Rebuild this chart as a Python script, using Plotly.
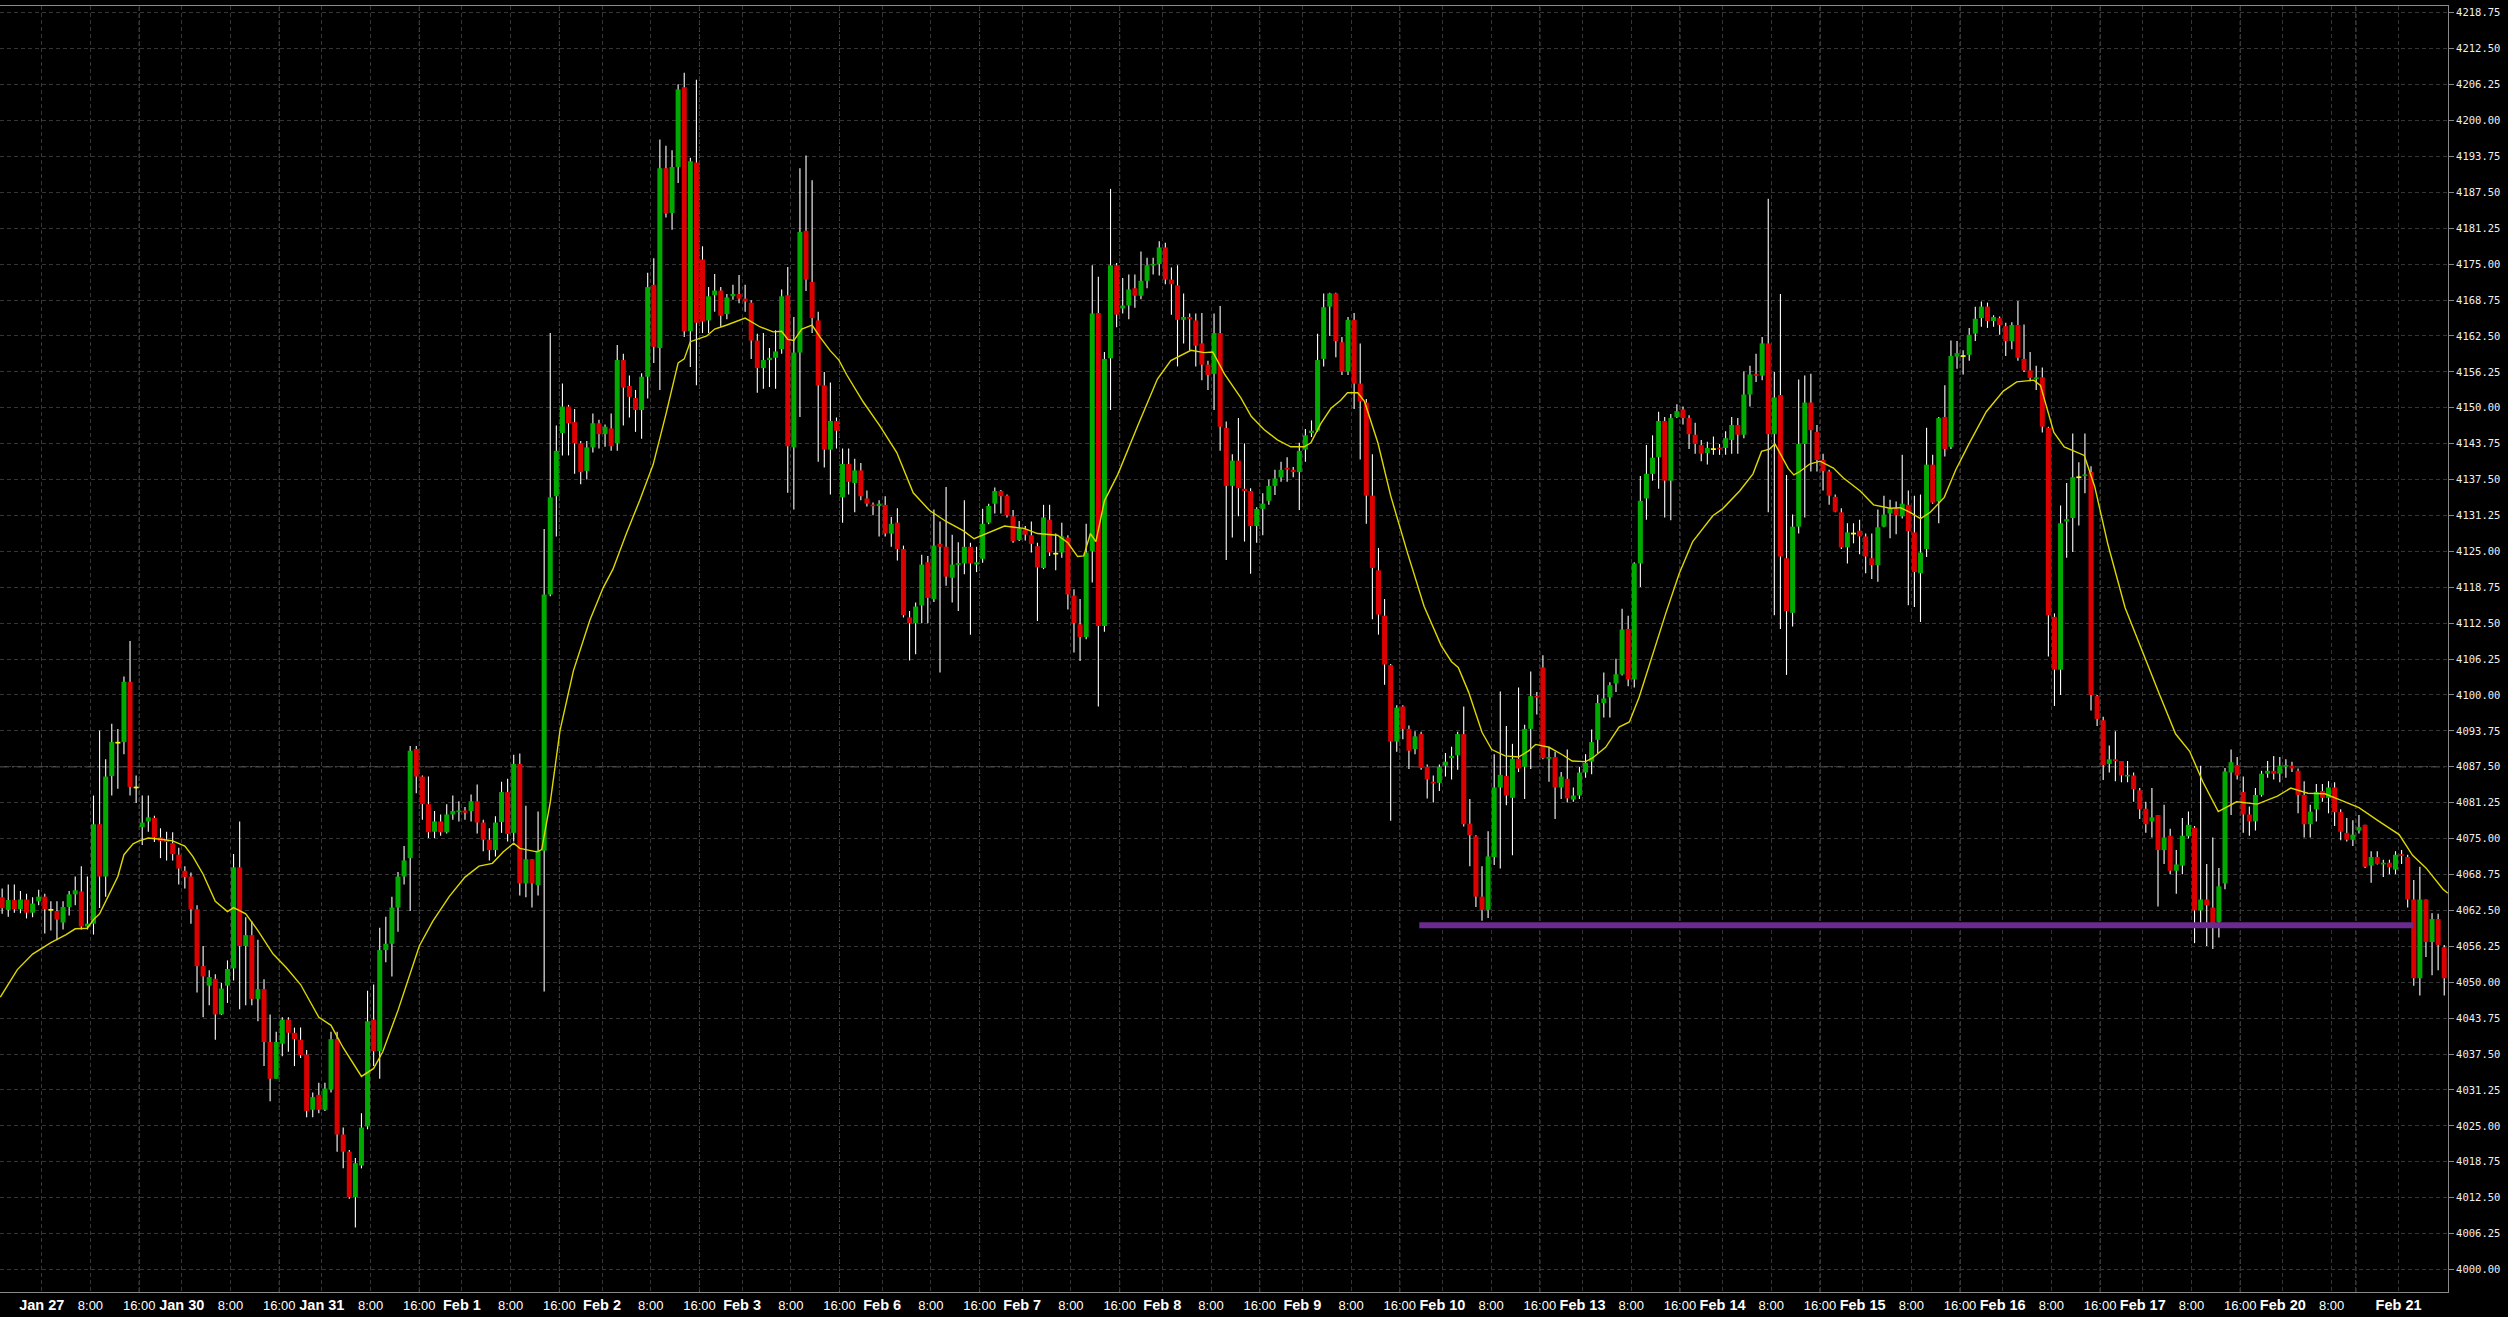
import plotly.graph_objects as go

# ---------------- data (hourly ES bars) ----------------
day_labels = ["Jan 27", "Jan 30", "Jan 31", "Feb 1", "Feb 2", "Feb 3", "Feb 6", "Feb 7", "Feb 8",
              "Feb 9", "Feb 10", "Feb 13", "Feb 14", "Feb 15", "Feb 16", "Feb 17", "Feb 20", "Feb 21"]
day_start = [7, 30, 53, 76, 99, 122, 145, 168, 191, 214, 237, 260, 283, 306, 329, 352, 375, 394]
day_hour_marks = [[8, 16]] * 16 + [[8], []]
feb20_break_bar = 387          # session break on Feb 20 (unlabelled gridline)

opens = [
    4064.8, 4062.6, 4064.3, 4062.7, 4064.4, 4062.1, 4064.1, 4064.9, 4062.6, 4062.4,
    4060.4, 4063.1, 4065.3, 4065.8, 4059.7, 4060.2, 4077.5, 4068.4, 4085.9, 4091.7,
    4091.8, 4102.3, 4083.9, 4077.0, 4078.0, 4078.6, 4075.2, 4074.8, 4074.2, 4072.2,
    4069.4, 4068.4, 4062.7, 4052.8, 4049.4, 4050.6, 4044.4, 4049.4, 4052.4, 4070.0,
    4056.3, 4058.2, 4047.1, 4048.8, 4039.6, 4033.2, 4039.3, 4043.5, 4041.2, 4040.0,
    4037.4, 4027.8, 4030.4, 4027.8, 4031.3, 4040.1, 4023.5, 4020.5, 4012.6, 4018.1,
    4024.9, 4043.5, 4038.0, 4055.6, 4056.7, 4063.0, 4068.4, 4071.6, 4090.6, 4085.8,
    4081.0, 4076.2, 4078.0, 4076.1, 4079.2, 4079.6, 4079.9, 4079.8, 4081.5, 4077.8,
    4074.8, 4073.0, 4077.9, 4083.1, 4076.0, 4088.0, 4067.2, 4071.4, 4066.9, 4072.9,
    4117.5, 4134.6, 4145.6, 4150.2, 4147.5, 4143.8, 4139.0, 4143.1, 4147.3, 4145.4,
    4146.4, 4143.8, 4158.3, 4153.8, 4151.7, 4149.6, 4155.4, 4171.4, 4160.4, 4191.7,
    4183.9, 4191.9, 4205.8, 4163.3, 4192.7, 4175.8, 4165.2, 4169.6, 4170.4, 4166.3,
    4169.4, 4169.8, 4169.0, 4168.3, 4161.7, 4156.9, 4158.3, 4158.7, 4160.2, 4169.6,
    4143.1, 4159.6, 4180.8, 4171.9, 4165.2, 4153.9, 4142.7, 4147.7, 4134.4, 4140.2,
    4136.9, 4139.1, 4134.2, 4133.1, 4132.9, 4133.1, 4128.1, 4130.0, 4125.4, 4113.5,
    4112.5, 4115.6, 4123.1, 4116.7, 4126.3, 4125.8, 4120.4, 4122.7, 4122.9, 4125.8,
    4122.7, 4123.7, 4130.0, 4133.3, 4135.5, 4134.7, 4131.1, 4127.0, 4128.9, 4127.8,
    4125.9, 4122.1, 4130.5, 4124.6, 4124.8, 4127.4, 4117.3, 4112.3, 4110.1, 4125.0,
    4166.5, 4112.0, 4158.6, 4174.8, 4167.3, 4167.8, 4170.8, 4169.5, 4172.1, 4174.8,
    4175.0, 4177.9, 4172.3, 4171.3, 4165.3, 4165.8, 4165.2, 4161.2, 4157.5, 4155.9,
    4163.0, 4146.5, 4136.4, 4140.8, 4135.9, 4135.5, 4129.4, 4132.4, 4133.8, 4136.4,
    4137.9, 4139.5, 4139.2, 4138.8, 4142.7, 4145.6, 4146.0, 4158.5, 4167.6, 4169.9,
    4161.4, 4156.3, 4165.3, 4154.2, 4150.9, 4134.7, 4121.7, 4113.8, 4105.2, 4091.9,
    4098.0, 4094.1, 4090.6, 4093.2, 4087.5, 4084.9, 4084.7, 4087.7, 4089.0, 4089.5,
    4093.2, 4077.6, 4075.4, 4064.9, 4062.6, 4071.8, 4083.9, 4085.9, 4082.1, 4088.9,
    4087.5, 4094.1, 4099.8, 4104.8, 4088.9, 4089.2, 4083.9, 4085.4, 4081.8, 4082.5,
    4086.5, 4088.4, 4092.2, 4098.6, 4099.6, 4102.0, 4103.6, 4111.5, 4102.7, 4122.9,
    4134.2, 4138.5, 4141.4, 4147.7, 4137.3, 4148.4, 4149.7, 4148.2, 4145.3, 4143.5,
    4142.1, 4142.8, 4143.0, 4143.0, 4144.4, 4147.0, 4145.3, 4152.3, 4155.8, 4155.6,
    4161.2, 4145.4, 4152.2, 4123.8, 4114.3, 4129.3, 4143.7, 4150.9, 4145.8, 4140.9,
    4138.9, 4134.5, 4131.8, 4125.7, 4128.1, 4128.6, 4127.6, 4123.8, 4122.6, 4129.3,
    4131.6, 4132.5, 4131.1, 4133.1, 4128.3, 4121.2, 4125.4, 4140.1, 4133.7, 4148.4,
    4143.2, 4158.9, 4159.0, 4159.2, 4162.9, 4165.6, 4167.6, 4165.1, 4165.6, 4164.2,
    4161.6, 4164.4, 4158.5, 4156.5, 4155.0, 4155.3, 4146.5, 4113.6, 4104.4, 4130.2,
    4130.8, 4137.9, 4138.1, 4138.8, 4099.8, 4095.6, 4088.0, 4088.8, 4088.5, 4085.8,
    4086.0, 4083.4, 4080.2, 4078.0, 4079.1, 4073.0, 4075.5, 4069.4, 4070.3, 4075.4,
    4076.9, 4062.5, 4064.4, 4063.0, 4060.5, 4067.2, 4086.5, 4087.8, 4083.1, 4079.2,
    4078.0, 4082.6, 4086.3, 4086.8, 4086.3, 4087.5, 4087.7, 4086.8, 4082.6, 4077.5,
    4080.1, 4083.3, 4082.1, 4083.9, 4079.6, 4076.0, 4074.8, 4076.4, 4077.4, 4070.3,
    4071.8, 4070.5, 4070.8, 4069.6, 4072.3, 4071.8, 4064.4, 4050.7, 4064.4, 4057.0,
    4061.0, 4056.1]

highs = [
    4066.3, 4067.0, 4067.0, 4065.9, 4065.4, 4064.8, 4066.1, 4065.4, 4064.1, 4064.1,
    4064.1, 4065.9, 4068.4, 4070.2, 4068.4, 4082.5, 4093.8, 4088.8, 4095.0, 4094.1,
    4103.2, 4109.4, 4086.0, 4082.5, 4082.5, 4079.0, 4076.8, 4076.2, 4076.1, 4073.4,
    4070.2, 4069.1, 4063.4, 4056.3, 4052.1, 4051.4, 4049.9, 4053.8, 4072.3, 4078.0,
    4061.3, 4060.6, 4057.4, 4050.5, 4044.4, 4041.4, 4043.9, 4043.9, 4042.1, 4042.1,
    4038.2, 4030.8, 4032.5, 4032.5, 4041.4, 4041.4, 4024.7, 4020.8, 4019.4, 4027.2,
    4048.5, 4049.6, 4059.5, 4061.4, 4064.9, 4069.2, 4073.7, 4091.1, 4091.1, 4086.0,
    4085.8, 4079.8, 4079.2, 4081.0, 4082.5, 4081.5, 4080.5, 4082.7, 4084.4, 4078.3,
    4076.8, 4078.9, 4084.9, 4085.4, 4089.6, 4089.8, 4080.7, 4071.4, 4079.7, 4128.9,
    4163.0, 4146.9, 4154.2, 4150.5, 4149.8, 4144.2, 4144.2, 4149.0, 4147.9, 4147.1,
    4149.0, 4160.9, 4159.4, 4155.6, 4153.1, 4156.0, 4173.5, 4176.0, 4196.7, 4195.6,
    4194.8, 4206.3, 4208.3, 4193.5, 4207.1, 4178.1, 4171.0, 4173.3, 4171.0, 4169.8,
    4171.4, 4173.1, 4171.4, 4168.7, 4162.9, 4163.0, 4160.4, 4163.5, 4170.6, 4174.5,
    4165.8, 4191.7, 4193.9, 4189.6, 4166.7, 4156.2, 4154.4, 4148.3, 4142.9, 4142.9,
    4141.1, 4140.4, 4135.6, 4133.5, 4133.9, 4134.6, 4131.0, 4132.5, 4126.0, 4114.6,
    4116.1, 4124.4, 4124.2, 4132.3, 4130.2, 4136.2, 4127.9, 4126.6, 4133.9, 4126.5,
    4125.8, 4132.4, 4133.3, 4136.1, 4135.7, 4134.9, 4132.2, 4130.3, 4129.4, 4130.2,
    4126.5, 4133.1, 4133.1, 4128.1, 4130.0, 4127.8, 4118.4, 4116.7, 4129.8, 4174.8,
    4172.8, 4159.7, 4188.1, 4175.2, 4172.6, 4173.2, 4173.2, 4177.2, 4176.1, 4176.1,
    4179.0, 4178.7, 4174.4, 4174.8, 4169.9, 4166.4, 4166.4, 4166.5, 4158.2, 4166.4,
    4167.7, 4147.6, 4141.9, 4148.2, 4143.8, 4136.0, 4132.7, 4135.1, 4137.5, 4139.2,
    4140.6, 4141.4, 4139.7, 4143.9, 4146.3, 4147.8, 4162.9, 4169.9, 4170.0, 4170.0,
    4162.3, 4165.8, 4166.5, 4161.2, 4151.5, 4141.9, 4125.6, 4116.7, 4105.4, 4098.2,
    4098.2, 4094.7, 4093.7, 4093.6, 4087.9, 4086.0, 4087.9, 4089.9, 4091.0, 4093.6,
    4098.0, 4081.9, 4075.6, 4070.2, 4076.3, 4089.7, 4100.6, 4094.6, 4091.5, 4101.3,
    4094.8, 4104.1, 4100.5, 4106.9, 4091.0, 4090.1, 4086.6, 4090.5, 4083.9, 4087.5,
    4089.7, 4094.0, 4100.0, 4103.9, 4102.2, 4106.3, 4115.0, 4113.8, 4123.1, 4138.1,
    4143.5, 4145.2, 4149.3, 4148.4, 4148.9, 4150.6, 4150.2, 4148.7, 4147.4, 4144.4,
    4144.1, 4145.0, 4143.7, 4145.9, 4148.4, 4148.2, 4156.3, 4157.3, 4159.4, 4162.3,
    4186.4, 4156.2, 4169.8, 4138.3, 4131.4, 4154.9, 4155.6, 4155.9, 4147.0, 4142.0,
    4139.2, 4134.9, 4132.5, 4129.9, 4129.9, 4130.5, 4128.1, 4128.1, 4132.3, 4134.7,
    4134.0, 4133.7, 4141.8, 4135.6, 4134.7, 4134.9, 4146.5, 4141.8, 4148.4, 4153.9,
    4161.7, 4161.6, 4160.0, 4163.9, 4167.6, 4168.5, 4168.3, 4166.1, 4165.9, 4164.8,
    4164.9, 4168.6, 4164.5, 4159.7, 4157.3, 4157.0, 4146.7, 4114.2, 4133.0, 4136.9,
    4145.5, 4140.5, 4145.5, 4139.8, 4100.0, 4096.2, 4091.2, 4093.7, 4088.5, 4088.5,
    4086.5, 4083.8, 4081.4, 4083.8, 4079.1, 4080.9, 4076.7, 4073.0, 4078.6, 4079.7,
    4077.2, 4087.7, 4070.6, 4075.2, 4069.9, 4087.3, 4090.5, 4089.2, 4085.8, 4080.6,
    4083.8, 4086.8, 4088.5, 4089.4, 4089.2, 4088.8, 4088.4, 4087.2, 4085.0, 4080.9,
    4084.5, 4084.5, 4085.0, 4084.8, 4080.1, 4078.6, 4078.2, 4079.1, 4077.4, 4072.8,
    4072.8, 4071.3, 4071.3, 4072.8, 4073.0, 4072.2, 4067.8, 4070.1, 4064.4, 4062.0,
    4061.9, 4056.5]

lows = [
    4061.9, 4061.4, 4062.1, 4062.0, 4061.1, 4061.3, 4063.4, 4058.5, 4059.0, 4057.3,
    4059.2, 4061.6, 4063.4, 4059.2, 4059.2, 4058.3, 4062.9, 4064.9, 4082.5, 4083.7,
    4089.7, 4082.5, 4081.2, 4073.9, 4076.2, 4074.4, 4071.6, 4071.2, 4071.2, 4067.0,
    4066.3, 4060.2, 4048.2, 4043.9, 4046.0, 4040.0, 4044.3, 4046.4, 4050.3, 4045.3,
    4046.0, 4046.0, 4043.2, 4035.4, 4029.3, 4033.2, 4037.1, 4037.9, 4035.4, 4036.8,
    4026.5, 4026.5, 4027.2, 4027.6, 4030.8, 4020.5, 4017.6, 4012.3, 4007.3, 4017.6,
    4024.4, 4035.4, 4033.2, 4053.5, 4051.0, 4058.8, 4067.0, 4062.4, 4082.9, 4078.3,
    4075.1, 4075.1, 4075.5, 4075.9, 4078.3, 4078.0, 4078.3, 4078.0, 4075.9, 4072.8,
    4071.2, 4071.9, 4076.0, 4074.5, 4074.5, 4065.1, 4064.8, 4063.0, 4065.1, 4048.4,
    4117.2, 4127.6, 4141.7, 4141.7, 4138.5, 4136.7, 4137.5, 4142.2, 4142.9, 4143.2,
    4142.5, 4142.5, 4146.9, 4148.3, 4145.8, 4144.6, 4151.6, 4157.8, 4153.1, 4183.1,
    4181.0, 4189.1, 4162.3, 4157.1, 4153.9, 4163.0, 4163.0, 4166.7, 4164.1, 4165.4,
    4168.8, 4168.2, 4166.7, 4158.5, 4152.6, 4153.3, 4153.6, 4153.3, 4159.4, 4135.2,
    4132.3, 4148.4, 4170.3, 4163.0, 4140.6, 4139.6, 4134.9, 4142.9, 4130.0, 4134.9,
    4131.8, 4133.9, 4132.8, 4131.3, 4127.6, 4127.6, 4125.8, 4123.4, 4113.5, 4106.0,
    4107.1, 4112.5, 4112.5, 4116.2, 4103.9, 4119.0, 4116.1, 4114.6, 4121.0, 4110.5,
    4121.4, 4123.0, 4129.7, 4131.6, 4131.6, 4130.9, 4126.5, 4126.8, 4126.9, 4124.8,
    4112.9, 4121.9, 4124.2, 4121.7, 4123.9, 4114.9, 4107.4, 4105.9, 4109.7, 4119.6,
    4098.0, 4111.0, 4149.6, 4164.0, 4166.4, 4165.4, 4167.4, 4168.9, 4170.8, 4173.2,
    4173.0, 4171.5, 4166.2, 4157.2, 4161.2, 4160.0, 4157.2, 4154.8, 4153.1, 4149.6,
    4142.5, 4123.5, 4127.4, 4131.1, 4126.7, 4121.1, 4126.5, 4127.8, 4133.1, 4134.8,
    4137.1, 4137.1, 4137.9, 4132.2, 4140.6, 4144.9, 4145.8, 4157.2, 4162.5, 4158.8,
    4155.7, 4155.7, 4149.8, 4141.0, 4129.8, 4113.2, 4110.5, 4101.8, 4078.1, 4090.1,
    4092.3, 4087.1, 4089.7, 4087.0, 4082.0, 4081.3, 4083.3, 4085.8, 4085.3, 4087.0,
    4077.1, 4070.2, 4063.1, 4060.7, 4061.2, 4070.4, 4069.8, 4080.8, 4072.1, 4086.6,
    4081.9, 4087.1, 4096.6, 4088.8, 4084.9, 4078.4, 4081.9, 4081.3, 4081.4, 4081.9,
    4085.6, 4086.2, 4089.9, 4096.1, 4096.1, 4100.5, 4103.4, 4101.5, 4101.3, 4118.8,
    4130.5, 4137.3, 4135.9, 4130.9, 4130.4, 4148.2, 4147.1, 4142.8, 4142.0, 4140.7,
    4140.1, 4141.8, 4141.8, 4141.8, 4142.0, 4142.0, 4144.7, 4150.2, 4154.5, 4154.8,
    4131.8, 4113.9, 4111.5, 4103.5, 4111.9, 4128.1, 4130.9, 4138.9, 4138.9, 4135.6,
    4133.1, 4131.8, 4125.4, 4122.9, 4126.4, 4124.5, 4121.2, 4120.2, 4119.7, 4129.2,
    4127.3, 4128.0, 4130.7, 4115.6, 4115.3, 4112.7, 4124.0, 4133.3, 4129.9, 4141.5,
    4142.8, 4156.8, 4155.8, 4158.2, 4161.6, 4164.1, 4163.9, 4164.1, 4162.7, 4159.0,
    4160.2, 4158.2, 4156.2, 4154.6, 4153.1, 4145.7, 4106.7, 4098.1, 4100.0, 4123.9,
    4124.9, 4129.5, 4135.1, 4097.3, 4094.6, 4085.2, 4086.5, 4085.0, 4084.8, 4084.8,
    4081.4, 4078.4, 4076.0, 4075.2, 4063.2, 4070.6, 4068.8, 4065.4, 4068.8, 4075.0,
    4056.8, 4060.3, 4056.3, 4055.8, 4057.8, 4066.2, 4079.1, 4085.3, 4076.0, 4075.5,
    4076.4, 4082.3, 4085.6, 4085.3, 4084.8, 4085.6, 4086.6, 4079.4, 4075.2, 4075.2,
    4078.0, 4081.4, 4079.4, 4077.2, 4074.7, 4074.5, 4073.7, 4075.9, 4069.9, 4067.3,
    4070.5, 4068.3, 4068.8, 4068.8, 4070.6, 4063.0, 4049.4, 4047.7, 4054.4, 4051.2,
    4052.1, 4047.7]

closes = [
    4062.9, 4064.3, 4062.7, 4064.4, 4062.1, 4063.7, 4064.9, 4062.7, 4062.6, 4060.9,
    4063.1, 4065.3, 4066.0, 4059.7, 4060.2, 4077.5, 4068.4, 4085.8, 4091.8, 4091.7,
    4102.3, 4084.0, 4083.9, 4077.8, 4078.7, 4075.2, 4074.6, 4074.4, 4072.3, 4069.8,
    4068.3, 4062.7, 4052.8, 4051.0, 4050.9, 4044.4, 4048.9, 4052.3, 4070.0, 4056.3,
    4058.2, 4047.1, 4048.8, 4039.6, 4033.2, 4039.6, 4043.5, 4041.2, 4040.1, 4037.3,
    4027.6, 4030.0, 4027.8, 4031.5, 4040.1, 4023.5, 4020.5, 4012.6, 4018.5, 4024.7,
    4043.2, 4038.0, 4055.6, 4056.7, 4063.0, 4068.4, 4071.2, 4090.3, 4085.8, 4081.0,
    4076.1, 4078.0, 4076.1, 4079.2, 4079.8, 4079.9, 4079.5, 4081.5, 4077.8, 4074.8,
    4073.0, 4077.8, 4083.1, 4075.8, 4088.0, 4067.2, 4071.4, 4067.2, 4072.9, 4117.5,
    4134.4, 4142.5, 4150.2, 4147.3, 4143.8, 4138.8, 4143.1, 4147.3, 4145.4, 4146.7,
    4143.3, 4158.3, 4153.5, 4151.9, 4149.6, 4155.4, 4171.0, 4160.6, 4191.7, 4183.8,
    4191.9, 4205.4, 4163.3, 4192.9, 4164.8, 4165.0, 4169.4, 4170.4, 4166.0, 4169.2,
    4169.8, 4169.0, 4168.5, 4161.7, 4156.9, 4158.3, 4158.7, 4159.8, 4169.4, 4143.3,
    4159.6, 4180.6, 4172.3, 4165.6, 4153.9, 4142.7, 4147.7, 4146.0, 4140.2, 4137.1,
    4139.1, 4134.6, 4133.3, 4132.9, 4133.3, 4128.1, 4129.8, 4125.4, 4113.9, 4112.5,
    4115.4, 4122.7, 4116.9, 4126.0, 4125.8, 4120.6, 4122.7, 4122.9, 4125.8, 4122.9,
    4123.1, 4129.8, 4132.9, 4135.5, 4134.6, 4131.3, 4126.8, 4129.0, 4127.9, 4126.3,
    4122.2, 4130.9, 4124.8, 4124.6, 4127.6, 4117.5, 4112.5, 4110.1, 4124.8, 4166.4,
    4112.0, 4158.5, 4174.8, 4166.2, 4167.8, 4170.6, 4169.5, 4172.1, 4174.8, 4175.0,
    4177.9, 4172.3, 4171.5, 4165.3, 4165.8, 4165.4, 4160.8, 4157.5, 4155.7, 4163.0,
    4146.7, 4136.4, 4140.8, 4136.0, 4135.5, 4129.4, 4132.4, 4133.3, 4136.4, 4137.7,
    4139.2, 4139.3, 4138.8, 4142.5, 4145.2, 4146.0, 4158.3, 4167.5, 4169.9, 4161.6,
    4156.3, 4165.3, 4154.2, 4151.1, 4134.7, 4122.1, 4114.0, 4105.3, 4091.9, 4097.8,
    4094.1, 4090.3, 4092.8, 4087.3, 4085.3, 4084.6, 4087.5, 4088.4, 4089.4, 4093.2,
    4077.5, 4075.6, 4064.9, 4062.6, 4071.9, 4083.9, 4086.1, 4082.5, 4088.9, 4087.2,
    4094.1, 4099.8, 4099.6, 4089.0, 4089.2, 4083.9, 4085.8, 4082.0, 4082.5, 4086.5,
    4088.2, 4091.8, 4098.6, 4099.4, 4101.7, 4103.6, 4111.4, 4102.7, 4122.9, 4133.8,
    4138.5, 4141.3, 4147.7, 4137.3, 4148.2, 4149.4, 4148.2, 4145.4, 4143.7, 4142.0,
    4143.0, 4142.8, 4142.8, 4144.7, 4147.0, 4145.3, 4152.3, 4155.8, 4155.6, 4161.2,
    4145.4, 4151.8, 4124.1, 4114.6, 4129.3, 4143.7, 4150.9, 4146.1, 4140.9, 4139.0,
    4134.7, 4131.9, 4125.7, 4128.3, 4128.1, 4127.6, 4124.1, 4122.6, 4129.2, 4131.4,
    4132.5, 4131.3, 4133.3, 4128.5, 4121.4, 4124.8, 4140.1, 4133.5, 4148.2, 4142.8,
    4159.0, 4159.5, 4159.0, 4162.7, 4165.5, 4167.6, 4165.1, 4165.8, 4164.4, 4161.6,
    4164.4, 4158.7, 4156.5, 4155.2, 4155.3, 4146.7, 4113.9, 4104.4, 4129.9, 4130.6,
    4137.9, 4137.9, 4138.4, 4100.0, 4095.8, 4087.8, 4088.8, 4088.5, 4086.0, 4086.1,
    4083.6, 4080.1, 4077.5, 4078.7, 4073.0, 4075.2, 4069.4, 4070.5, 4075.5, 4077.4,
    4062.5, 4064.4, 4063.4, 4059.9, 4066.7, 4086.7, 4088.3, 4086.0, 4079.2, 4078.0,
    4082.6, 4086.3, 4086.8, 4086.3, 4087.7, 4087.8, 4087.2, 4082.6, 4077.5, 4079.7,
    4083.1, 4082.1, 4083.9, 4079.6, 4076.2, 4074.8, 4075.7, 4077.0, 4070.1, 4071.8,
    4070.6, 4070.8, 4070.0, 4072.2, 4072.0, 4064.4, 4050.7, 4064.4, 4057.0, 4061.0,
    4056.5, 4050.7]

# moving average (yellow line), read at bar positions
ma_idx = [-0.3, 2.5, 5, 8, 10.5, 12, 14, 15, 16, 17, 19, 20, 21.5, 22.5, 24, 26, 28, 30, 31.3, 33,
          35, 37, 38, 40, 42, 44.5, 46.6, 49, 52, 54, 56, 59, 61, 62.5, 65, 68.5, 70.7, 73.4, 76,
          78.3, 80.5, 82.3, 84, 85, 87.8, 88.6, 90, 91.6, 93.8, 96.5, 98.7, 100.3, 102.5, 104.7,
          106.9, 109, 111, 112, 113, 115.7, 117, 119, 122, 124.4, 126.6, 128, 129, 130, 131.3, 133,
          134.3, 136, 137.4, 138.7, 141.4, 144.1, 146.9, 149.6, 152.3, 155, 157.8, 159.6, 162.4,
          164.6, 167.8, 170, 173.3, 175, 176.6, 177.6, 178.7, 179.6, 181, 183.2, 186.4, 189.7,
          191.9, 195.2, 197.4, 198.8, 200.7, 203.4, 205.1, 207.2, 209.4, 211.6, 213.8, 214.9,
          216.5, 218.2, 219.8, 220.9, 222.6, 223.7, 225.9, 228, 230.8, 233.5, 236.3, 238, 239.1,
          240.8, 243, 244.6, 246.8, 249, 250.7, 251.8, 254, 256.2, 257.8, 260, 261.1, 263.3,
          265.5, 267.2, 268.8, 271, 273.2, 275.4, 277.6, 280.9, 282.5, 285.3, 287.5, 288.9,
          290.2, 291.1, 293.3, 294.2, 295.2, 296.8, 298.5, 300.7, 302.3, 305.1, 307.3, 310,
          311.7, 313.3, 315, 316.6, 318.9, 320.8, 323, 325.8, 328.6, 330.8, 333.6, 334.7, 336.9,
          338.6, 341.9, 343.6, 345.8, 348.6, 351.4, 354.2, 356.9, 359.2, 361.4, 363.9, 366.9,
          370.3, 373.6, 375.8, 378.6, 381.4, 384.2, 387, 390.3, 393.6, 395.8, 398, 400.8, 401.6]
ma_val = [4047.4, 4052.2, 4054.9, 4056.9, 4058.3, 4059.3, 4059.4, 4060.9, 4061.9, 4064.1, 4068.4,
          4072.2, 4074.1, 4074.6, 4075.1, 4074.9, 4074.6, 4073.7, 4071.9, 4068.8, 4064.1, 4062.3,
          4063.0, 4061.9, 4059.0, 4054.9, 4052.6, 4049.6, 4043.9, 4042.5, 4038.6, 4033.6, 4035.0,
          4037.9, 4045.1, 4056.3, 4060.6, 4064.9, 4068.3, 4070.2, 4070.7, 4072.7, 4074.2, 4073.3,
          4072.7, 4073.1, 4081.3, 4093.8, 4104.2, 4113.0, 4118.7, 4121.9, 4128.1, 4133.9, 4140.1,
          4148.9, 4157.8, 4158.5, 4161.5, 4162.5, 4163.7, 4164.4, 4165.6, 4164.1, 4163.2, 4163.3,
          4161.9, 4161.7, 4163.7, 4164.4, 4162.3, 4159.9, 4158.3, 4155.7, 4151.0, 4146.9, 4142.2,
          4135.2, 4132.1, 4130.2, 4128.6, 4127.2, 4128.5, 4129.4, 4129.0, 4128.1, 4127.8, 4126.5,
          4124.1, 4124.2, 4128.1, 4126.7, 4133.8, 4138.4, 4146.7, 4155.0, 4158.2, 4160.0, 4159.6,
          4159.7, 4155.9, 4151.7, 4148.5, 4146.2, 4144.4, 4143.2, 4143.2, 4143.9, 4147.2, 4149.9,
          4151.3, 4152.6, 4152.6, 4151.1, 4143.9, 4134.7, 4124.6, 4115.4, 4108.6, 4105.8, 4104.8,
          4100.5, 4093.5, 4090.5, 4089.4, 4089.2, 4090.3, 4091.4, 4090.9, 4089.6, 4088.5, 4088.4,
          4089.0, 4090.9, 4094.4, 4095.3, 4099.6, 4107.0, 4114.3, 4121.2, 4126.7, 4131.2, 4132.4,
          4135.5, 4138.5, 4142.4, 4142.8, 4143.7, 4139.4, 4138.3, 4138.9, 4140.2, 4140.7, 4139.5,
          4137.8, 4135.5, 4133.1, 4132.5, 4132.6, 4131.8, 4130.7, 4131.8, 4134.4, 4139.2, 4143.8,
          4149.3, 4152.9, 4154.5, 4154.8, 4153.9, 4145.7, 4143.2, 4141.7, 4136.3, 4126.1, 4115.2,
          4107.6, 4100.2, 4093.2, 4090.2, 4084.8, 4079.7, 4081.4, 4081.0, 4082.4, 4083.8, 4082.9,
          4082.8, 4081.6, 4080.4, 4078.0, 4075.7, 4072.1, 4069.9, 4066.2, 4065.5]

support_level = 4059.9       # purple horizontal level
support_from_bar = 232.7
support_to_bar = 395.9
marked_level = 4087.50       # brighter dash-dot horizontal line

y_tick_start, y_tick_step = 4000.0, 6.25

# ---------------- figure ----------------
n = len(opens)
assert len(highs) == n and len(lows) == n and len(closes) == n
assert len(ma_idx) == len(ma_val)

GREEN, RED, DOJI = "#00aa00", "#dc0000", "#ffff00"
wick_x, wick_y = [], []
body = {GREEN: ([], []), RED: ([], []), DOJI: ([], [])}
for i, (o, h, l, c) in enumerate(zip(opens, highs, lows, closes)):
    wick_x += [i, i, None]
    wick_y += [min(l, o, c), max(h, o, c), None]
    if c > o:
        col = GREEN
    elif c < o:
        col = RED
    else:
        col = DOJI
    lo, hi = min(o, c), max(o, c)
    if hi - lo < 0.3:
        mid = (o + c) / 2
        lo, hi = mid - 0.15, mid + 0.15
    body[col][0].extend([i, i, None])
    body[col][1].extend([lo, hi, None])

fig = go.Figure()
fig.add_trace(go.Scatter(x=wick_x, y=wick_y, mode="lines",
                         line=dict(color="#ffffff", width=1.1), hoverinfo="skip"))
for col, (bx, by) in body.items():
    fig.add_trace(go.Scatter(x=bx, y=by, mode="lines",
                             line=dict(color=col, width=5), hoverinfo="skip"))
fig.add_trace(go.Scatter(x=ma_idx, y=ma_val, mode="lines",
                         line=dict(color="#dcd800", width=1.4), hoverinfo="skip"))
fig.add_trace(go.Scatter(x=[support_from_bar, support_to_bar], y=[support_level, support_level],
                         mode="lines", line=dict(color="#6a2a8e", width=6), hoverinfo="skip"))

# x ticks at session boundaries
tickvals, ticktext, heavy = [], [], []
for lab, s, hours in zip(day_labels, day_start, day_hour_marks):
    tickvals.append(s - 0.5)
    ticktext.append("<b>%s</b>" % lab)
    for hr in hours:
        tickvals.append(s + hr - 0.5)
        ticktext.append('<span style="font-size:13px">%d:00</span>' % hr)
        if hr == 16:
            heavy.append(s + hr - 0.5)
tickvals.append(feb20_break_bar - 0.5)
ticktext.append("")
heavy.append(feb20_break_bar - 0.5)

shapes = []
for xv in heavy:
    shapes.append(dict(type="line", xref="x", yref="paper", x0=xv, x1=xv, y0=0, y1=1,
                       line=dict(color="#5c5c5c", width=1, dash="4px,3px"), layer="below"))
shapes.append(dict(type="line", xref="paper", yref="y", x0=0, x1=1, y0=marked_level, y1=marked_level,
                   line=dict(color="#6e6e6e", width=1, dash="9px,3px,2px,3px"), layer="below"))

fig.update_layout(
    width=2508, height=1317,
    margin=dict(l=0, r=60, t=6, b=25, autoexpand=False),
    paper_bgcolor="#000000", plot_bgcolor="#000000",
    showlegend=False, hovermode=False,
    shapes=shapes,
)
fig.update_xaxes(
    range=[-0.353, 401.62], tickmode="array", tickvals=tickvals, ticktext=ticktext,
    showgrid=True, gridcolor="#353535", griddash="4px,3px", gridwidth=1,
    zeroline=False, showline=True, linecolor="#8a8a8a", linewidth=1, mirror=True,
    ticks="", automargin=False,
    tickfont=dict(family="Liberation Sans Narrow, Liberation Sans, Arial Narrow, sans-serif",
                  size=14.5, color="#ffffff"),
    tickangle=0,
)
fig.update_yaxes(
    range=[3996.08, 4219.93], side="right", tick0=y_tick_start, dtick=y_tick_step,
    tickformat=".2f", showgrid=True, gridcolor="#353535", griddash="4px,3px", gridwidth=1,
    zeroline=False, showline=True, linecolor="#8a8a8a", linewidth=1, mirror=True,
    ticks="outside", ticklen=5, tickcolor="#8a8a8a", automargin=False,
    tickfont=dict(family="DejaVu Sans Mono, monospace", size=10.5, color="#f0f0f0"),
)

fig.write_html(
    "out.html",
    config={"displayModeBar": False},
    post_script="document.body.style.margin='0';document.body.style.padding='0';"
                "document.body.style.overflow='hidden';document.body.style.background='#000';",
)
